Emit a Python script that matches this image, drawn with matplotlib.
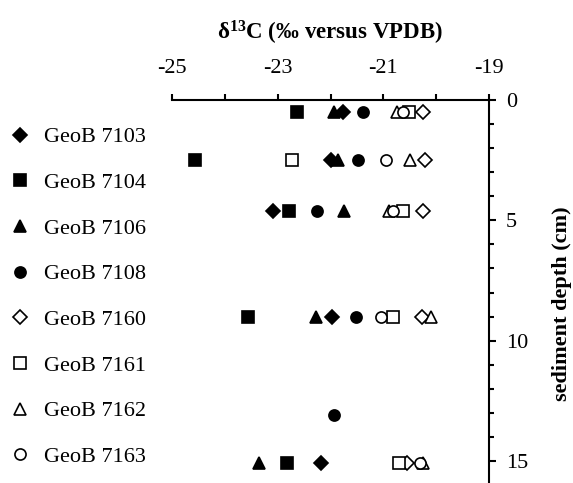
import matplotlib
matplotlib.use("Agg")
import matplotlib.pyplot as plt
from matplotlib.ticker import MultipleLocator, FixedLocator

plt.rcParams['font.family'] = ['Liberation Serif', 'DejaVu Serif']
plt.rcParams['mathtext.fontset'] = 'custom'
plt.rcParams['mathtext.rm'] = 'Liberation Serif'
plt.rcParams['mathtext.bf'] = 'Liberation Serif:bold'

# depth (cm) per sample row and d13C values per core
depths = [0.5, 2.5, 4.6, 9.0, 15.1]
depths_7108 = [0.5, 2.5, 4.6, 9.0, 13.1]

geob_7103 = [-21.76, -22.00, -23.09, -21.98, -22.18]
geob_7104 = [-22.63, -24.56, -22.78, -23.57, -22.82]
geob_7106 = [-21.93, -21.85, -21.74, -22.27, -23.35]
geob_7108 = [-21.39, -21.48, -22.25, -21.52, -21.94]
geob_7160 = [-20.25, -20.21, -20.25, -20.27, -20.56]
geob_7161 = [-20.52, -22.73, -20.62, -20.81, -20.71]
geob_7162 = [-20.74, -20.49, -20.90, -20.10, -20.24]
geob_7163 = [-20.63, -20.95, -20.81, -21.04, -20.30]

series = [
    ("GeoB 7103", depths, geob_7103, "D", True),
    ("GeoB 7104", depths, geob_7104, "s", True),
    ("GeoB 7106", depths, geob_7106, "^", True),
    ("GeoB 7108", depths_7108, geob_7108, "o", True),
    ("GeoB 7160", depths, geob_7160, "D", False),
    ("GeoB 7161", depths, geob_7161, "s", False),
    ("GeoB 7162", depths, geob_7162, "^", False),
    ("GeoB 7163", depths, geob_7163, "o", False),
]

fig = plt.figure(figsize=(5.73, 4.83), dpi=100)
ax = fig.add_axes([172 / 573, 0.0, (489 - 172) / 573, 1 - 100 / 483])

for name, d, vals, marker, filled in series:
    size = 7 if marker == "D" else 8
    ax.plot(vals, d, linestyle="none", marker=marker, markersize=size,
            markerfacecolor="black" if filled else "white",
            markeredgecolor="black", markeredgewidth=1.2, label=name)

ax.set_xlim(-25, -19)
ax.set_ylim((483 - 100) / 24.07, 0)

for s in ["left", "bottom"]:
    ax.spines[s].set_visible(False)
for s in ["top", "right"]:
    ax.spines[s].set_linewidth(1.5)

ax.xaxis.tick_top()
ax.xaxis.set_major_locator(FixedLocator([-25, -23, -21, -19]))
ax.xaxis.set_minor_locator(FixedLocator([-24, -22, -20]))
ax.tick_params(axis="x", which="both", direction="out", length=4, width=1.5,
               labelsize=16, pad=12)
ax.set_xticklabels(["-25", "-23", "-21", "-19"])

ax.yaxis.tick_right()
ax.yaxis.set_major_locator(MultipleLocator(5))
ax.yaxis.set_minor_locator(MultipleLocator(1))
ax.tick_params(axis="y", which="major", direction="out", length=5, width=1.5,
               labelsize=16, pad=7)
ax.tick_params(axis="y", which="minor", direction="out", length=3.5, width=1.5)

fig.text(330 / 573, 1 - 33 / 483, r"$\mathbf{\delta^{13}C}$ (‰ versus VPDB)",
         ha="center", va="center", fontsize=16.5, fontweight="bold")
fig.text(562 / 573, 1 - 304 / 483, "sediment depth (cm)", rotation=90,
         ha="center", va="center", fontsize=16, fontweight="bold")

fig.legend(loc="upper left", bbox_to_anchor=(0.0, 1 - 118 / 483),
           frameon=False, fontsize=16, markerscale=1.0, handlelength=1.0,
           handletextpad=0.6, labelspacing=1.13, borderaxespad=0)

fig.savefig("out.png", dpi=100)
